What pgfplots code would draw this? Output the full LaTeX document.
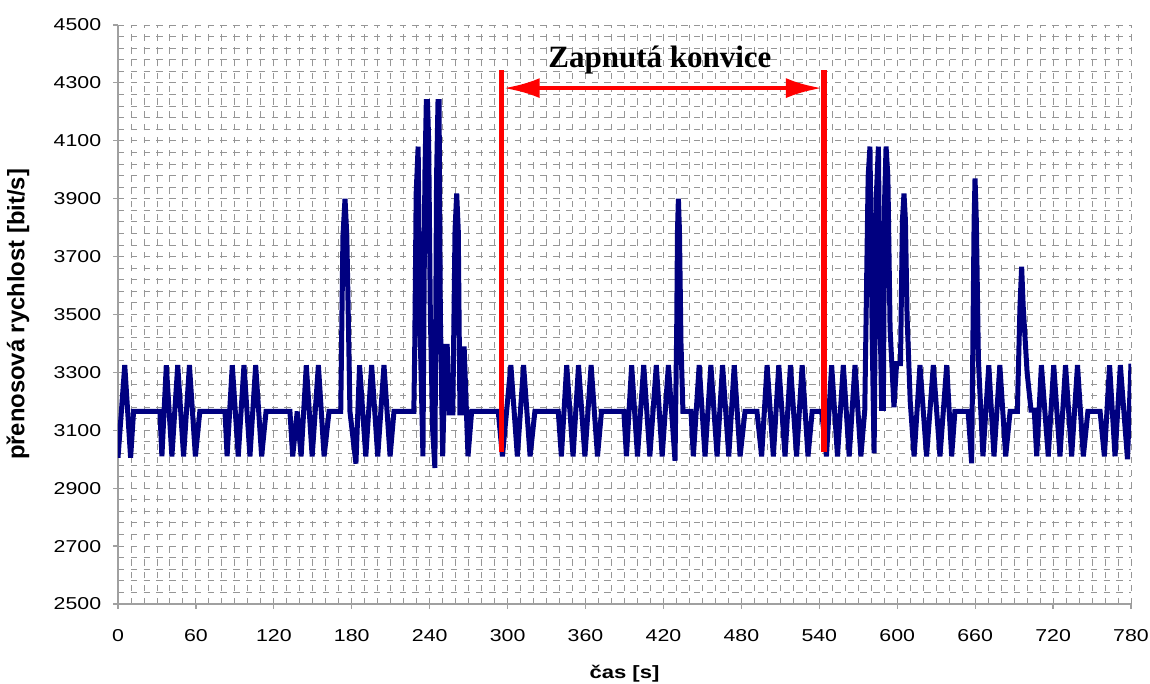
\documentclass[border=0pt]{standalone}
\usepackage{fontspec}
\setmainfont{Liberation Sans}
\newfontfamily\tickfont{Liberation Sans}[FakeStretch=1.24]
\newfontfamily\annfont{Liberation Serif}
\usepackage{pgfplots}
\pgfplotsset{compat=1.18}
\usetikzlibrary{arrows.meta}
\definecolor{navyline}{RGB}{0,0,128}
\definecolor{gridgray}{RGB}{150,150,150}
\definecolor{axisgray}{RGB}{160,160,160}

\begin{document}
\begin{tikzpicture}
\begin{axis}[
    scale only axis,
    width=506.5pt,
    height=289.5pt,
    xmin=0, xmax=780,
    ymin=2500, ymax=4500,
    xtick={0,60,...,780},
    ytick={2500,2700,...,4500},
    minor x tick num=5,
    minor y tick num=4,
    grid=both,
    major grid style={draw=gridgray, line width=0.45pt, dash pattern=on 3.2pt off 3.2pt},
    minor grid style={draw=gridgray, line width=0.45pt, dash pattern=on 3.2pt off 3.2pt},
    tick align=outside,
    major tick length=2.4pt,
    minor tick length=0pt,
    axis x line*=bottom,
    axis y line*=left,
    axis line style={draw=axisgray, line width=0.9pt, -},
    tick style={draw=axisgray, line width=0.6pt},
    /pgf/number format/1000 sep={},
    /pgf/number format/assume math mode=true,
    tick label style={font=\tickfont\fontsize{8.6}{10}\selectfont},
    xticklabel style={yshift=-7pt},
    yticklabel style={xshift=-2.5pt},
    xlabel={čas [s]},
    ylabel={přenosová rychlost [bit/s]},
    xlabel style={font=\tickfont\bfseries\fontsize{8.9}{10}\selectfont, at={(rel axis cs:0.5,0)}, anchor=center, yshift=-35pt},
    ylabel style={font=\bfseries\fontsize{11.9}{13}\selectfont, at={(rel axis cs:0,0.5)}, anchor=center, yshift=50pt},
]
\addplot[color=navyline, line width=2.5pt, mark=none] coordinates {
(0,3005) (5.2,3325) (9.7,3005) (12,3165) (32.3,3165)
(33.8,3010) (37.2,3325) (41.5,3010) (46,3325) (50.5,3010) (55,3325) (59.6,3010) (63,3165)
(82.4,3165) (84,3010) (88,3325) (92.6,3010) (97,3325) (101.6,3010) (106,3325) (110.6,3010) (114,3165)
(132.4,3165) (134.5,3010) (138,3165) (141,3010) (145,3325) (149.5,3010) (154.3,3325) (158.7,3010) (162.5,3165)
(171.5,3165) (172.3,3450) (173.2,3770) (174.8,3900) (176.2,3770) (177.5,3450) (178.6,3165)
(183.2,2985) (186,3325) (190.8,3010) (195.3,3325) (200,3010) (204.8,3325) (209.5,3010) (212.5,3165)
(227.8,3165) (228.5,3390) (229.6,3920) (231.1,4080) (232.6,3450) (234.8,3010) (236.3,3980) (237.4,4235)
(238.3,4235) (239.2,4100) (240.5,3500) (242.3,3100) (244,2970) (245.3,3976) (246.4,4235) (247.2,4235)
(248.2,3500) (250,3010) (252,3390) (253.5,3390) (255,3160) (257.8,3160) (259.5,3790) (260.8,3918)
(262,3790) (263.3,3160) (264.7,3160) (266.5,3390) (269.5,3010) (272.3,3165)
(292.8,3165) (296,3010) (302.5,3325) (307.5,3010) (312.3,3325) (317.3,3010) (321,3165)
(339,3165) (341.4,3010) (345.5,3325) (350.4,3010) (354.6,3325) (359.5,3010) (364.3,3325) (369.2,3010) (372.3,3165)
(389.5,3165) (391.5,3010) (395.5,3325) (400,3010) (404.8,3325) (409.5,3010) (414.5,3325) (419,3010) (423.8,3325)
(428.9,2995) (430.2,3450) (430.8,3790) (431.5,3900) (432.3,3790) (433.5,3400) (435,3165)
(441.2,3165) (443,3010) (447.5,3325) (452,3010) (456.5,3325) (461.3,3010) (465.5,3325) (470.3,3010) (474.5,3325) (479,3010) (482.8,3165)
(492,3165) (495.6,3010) (499.8,3325) (504.6,3010) (508.8,3325) (513.6,3010) (517.8,3325) (522.5,3010) (526.8,3325) (531.3,3010) (534.5,3165)
(541.8,3165) (545.5,3010) (549.5,3325) (554,3010) (558.5,3325) (563,3010) (567.5,3325) (572,3010)
(575,3170) (577.6,3976) (579,4080) (580.8,3400) (582.2,3020) (583.8,3900) (585.5,4080) (586.8,3500)
(588,3176) (589.3,3176) (590.3,3900) (591.4,4080) (592.8,3976) (594.5,3450) (597.5,3180)
(599.5,3330) (602.5,3330) (604,3826) (605.2,3918) (606.3,3826) (607.6,3490) (610,3200)
(613,3010) (617.5,3325) (622.6,3010) (627.8,3325) (632.9,3010) (638.1,3325) (641.9,3010) (644.4,3165)
(654.6,3165) (657.3,2986) (659.2,3826) (659.9,3970) (660.9,3826) (662.5,3343)
(666,3010) (670.5,3325) (674.5,3010) (679,3325) (683.5,3010) (686.9,3165)
(692.5,3165) (694.5,3527) (695.8,3665) (697,3527) (700,3300) (703,3170) (705.5,3170)
(707.4,3010) (711,3325) (716.3,3010) (720.5,3325) (725.3,3010) (729.6,3325) (734.3,3010) (738.8,3325) (743.3,3010) (746.8,3165)
(756.2,3165) (759.5,3010) (763.5,3325) (767.7,3010) (771.8,3325) (777.3,3000) (780,3330)
};
% annotation: kettle switched on
\draw[red, line width=2.8pt] (axis cs:295.3,3025) -- (axis cs:295.3,4345);
\draw[red, line width=2.8pt] (axis cs:543.6,3025) -- (axis cs:543.6,4345);
\draw[red, line width=2.2pt, {Latex[length=18pt,width=10pt]}-{Latex[length=18pt,width=10pt]}]
    (axis cs:297,4282) -- (axis cs:542,4282);
\node[font=\annfont\bfseries\fontsize{15.5}{16}\selectfont] at (axis cs:417.3,4380) {Zapnutá konvice};
\end{axis}
\pgfresetboundingbox
\path[use as bounding box] (-59pt,-40pt) rectangle (516pt,302pt);
\end{tikzpicture}
\end{document}
